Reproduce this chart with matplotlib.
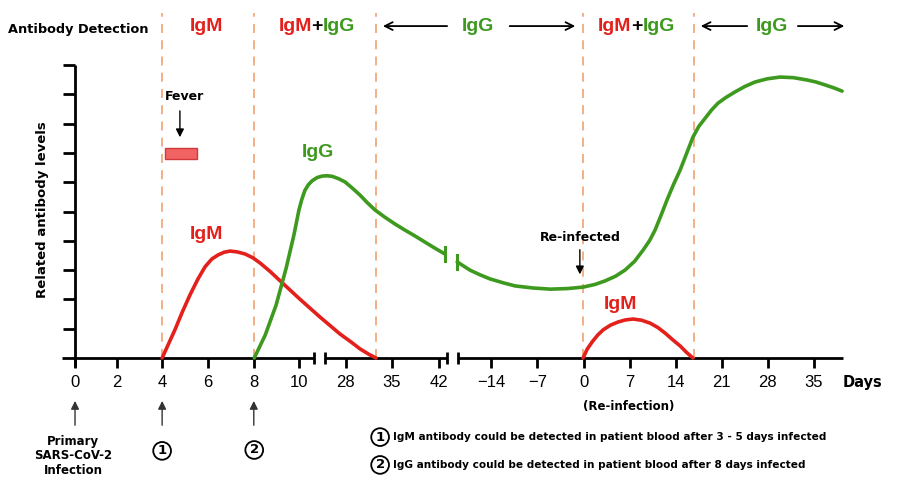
import numpy as np
import matplotlib
matplotlib.use('Agg')
import matplotlib.pyplot as plt
from matplotlib.patches import Rectangle

# x is in tick units along the (broken) timeline, y is the relative antibody level
days_primary = [0, 2, 4, 6, 8, 10]
days_late = [28, 35, 42]
days_reinf = [-14, -7, 0, 7, 14, 21, 28, 35]
levels = list(range(1, 11))

igm1_x = [1.91, 2.05, 2.19, 2.35, 2.52, 2.69, 2.85, 3.00, 3.14, 3.27, 3.40, 3.56, 3.73, 3.90, 4.06,
          4.28, 4.50, 4.93, 5.37, 5.81, 6.05, 6.25, 6.45, 6.60]
igm1_y = [0.0, 0.48, 0.96, 1.56, 2.15, 2.68, 3.11, 3.38, 3.52, 3.61, 3.65, 3.62, 3.55, 3.42, 3.24,
          2.95, 2.63, 2.01, 1.40, 0.82, 0.55, 0.31, 0.12, 0.0]

igg1_x = [3.93, 4.17, 4.41, 4.63, 4.80, 4.91, 4.97, 5.04, 5.12, 5.20, 5.31, 5.42, 5.53, 5.64, 5.78,
          5.92, 6.08, 6.25, 6.41, 6.58, 6.80, 7.02, 7.24, 7.46, 7.68, 7.89, 8.11]
igg1_y = [0.0, 0.78, 1.81, 3.07, 4.20, 5.05, 5.40, 5.72, 5.92, 6.05, 6.16, 6.21, 6.22, 6.20, 6.12,
          6.01, 5.80, 5.56, 5.30, 5.05, 4.80, 4.57, 4.36, 4.16, 3.95, 3.75, 3.55]

igg2_x = [8.38, 8.66, 8.88, 9.10, 9.38, 9.65, 10.04, 10.42, 10.80, 11.14, 11.40, 11.62, 11.85, 12.06,
          12.27, 12.46, 12.60, 12.72, 12.85, 12.98, 13.12, 13.27, 13.41, 13.55, 13.68, 13.82, 13.96,
          14.10, 14.28, 14.47, 14.69, 14.91, 15.18, 15.46, 15.75, 16.05, 16.25, 16.45, 16.64, 16.82]
igg2_y = [3.28, 3.00, 2.84, 2.70, 2.57, 2.46, 2.39, 2.35, 2.37, 2.42, 2.51, 2.63, 2.79, 3.00,
          3.30, 3.69, 4.01, 4.37, 4.87, 5.39, 5.91, 6.42, 6.98, 7.54, 7.91, 8.19, 8.47,
          8.70, 8.90, 9.08, 9.27, 9.42, 9.53, 9.59, 9.57, 9.49, 9.42, 9.32, 9.22, 9.11]

igm2_x = [11.14, 11.23, 11.34, 11.46, 11.58, 11.74, 11.91, 12.07, 12.24, 12.42, 12.61, 12.78, 12.94,
          13.10, 13.27, 13.41, 13.55]
igm2_y = [0.0, 0.30, 0.55, 0.78, 0.96, 1.12, 1.23, 1.30, 1.33, 1.29, 1.19, 1.04, 0.85,
          0.63, 0.41, 0.19, 0.0]

phase_bounds = [1.91, 3.92, 6.60, 11.14, 13.57]

RED = '#e3201b'
GREEN = '#3d9a1e'
DASH = '#f2a97e'
NUM = 'Liberation Sans'
BOLD = 'DejaVu Sans'

# tick layout
pos_primary = np.array([0, 0.92, 1.91, 2.92, 3.92, 4.91])
pos_late = np.array([5.94, 6.95, 7.98])
pos_reinf = 9.13 + 1.01 * np.arange(len(days_reinf))

fig = plt.figure(figsize=(9, 4.91), dpi=100)
ax = fig.add_axes([0, 0, 1, 1])
ax.set_xlim(-1.645, 18.09)
ax.set_ylim(-4.54, 12.22)
ax.axis('off')

# axes lines
k = dict(color='black', lw=2, solid_capstyle='butt')
ax.plot([0, 0], [-0.32, 10], **k)
ax.plot([-0.285, 5.24], [0, 0], **k)
ax.plot([5.48, 8.16], [0, 0], **k)
ax.plot([8.40, 16.84], [0, 0], **k)
for bx in [5.24, 5.48, 8.16, 8.40]:
    ax.plot([bx, bx], [-0.22, 0.22], **k)
for lv in levels:
    ax.plot([-0.26, 0], [lv, lv], **k)

all_pos = np.concatenate([pos_primary, pos_late, pos_reinf])
all_days = days_primary + days_late + days_reinf
for p, d in zip(all_pos, all_days):
    ax.plot([p, p], [0, -0.34], **k)
    lab = str(d).replace('-', '\u2212')
    ax.text(p, -0.85, lab, ha='center', va='center', fontsize=12, family=NUM)
ax.text(16.84, -0.85, 'Days', ha='left', va='center', fontsize=10.5, family=BOLD, weight='bold')
ax.text(pos_reinf[2] + 1.0, -1.67, '(Re-infection)', ha='center', va='center', fontsize=8.5,
        family=BOLD, weight='bold')

# phase boundaries
for b in phase_bounds:
    ax.plot([b, b], [0, 11.77], color=DASH, lw=1.3, dashes=(5, 4))

# curves
cs = dict(lw=2.6, solid_joinstyle='round', solid_capstyle='round')
ax.plot(igm1_x, igm1_y, color=RED, **cs)
ax.plot(igg1_x, igg1_y, color=GREEN, **cs)
ax.plot(igg2_x, igg2_y, color=GREEN, **cs)
ax.plot(igm2_x, igm2_y, color=RED, **cs)
ax.plot([igg1_x[-1]] * 2, [igg1_y[-1] - 0.25, igg1_y[-1] + 0.25], color=GREEN, lw=2.2)
ax.plot([igg2_x[0]] * 2, [igg2_y[0] - 0.25, igg2_y[0] + 0.25], color=GREEN, lw=2.2)

# curve labels
ig = dict(fontsize=14, family=NUM, weight='bold', ha='center', va='center')
ax.text(2.89, 4.23, 'IgM', color=RED, **ig)
ax.text(5.33, 7.03, 'IgG', color=GREEN, **ig)
ax.text(11.95, 1.81, 'IgM', color=RED, **ig)

# fever
ax.add_patch(Rectangle((1.97, 6.79), 0.71, 0.38, facecolor='#f26363', edgecolor='#d23a3a', lw=1))
ax.text(2.41, 8.94, 'Fever', ha='center', va='center', fontsize=9, family=BOLD, weight='bold')
ax.annotate('', xy=(2.30, 7.44), xytext=(2.30, 8.53),
            arrowprops=dict(arrowstyle='-|>', color='black', lw=1, mutation_scale=12))

# re-infected
ax.text(11.07, 4.13, 'Re-infected', ha='center', va='center', fontsize=9, family=BOLD, weight='bold')
ax.annotate('', xy=(11.07, 2.76), xytext=(11.07, 3.79),
            arrowprops=dict(arrowstyle='-|>', color='black', lw=1, mutation_scale=12))

# header row
hy = 11.33
ax.text(-1.47, 11.2, 'Antibody Detection', ha='left', va='center', fontsize=9.3, family=BOLD, weight='bold')
ax.text(2.89, hy, 'IgM', color=RED, **ig)
for plus_x in [5.31, 12.32]:
    ax.text(plus_x - 0.12, hy, 'IgM', color=RED, fontsize=14, family=NUM, weight='bold', ha='right', va='center')
    ax.text(plus_x, hy, '+', color='black', fontsize=14, family=NUM, weight='bold', ha='center', va='center')
    ax.text(plus_x + 0.12, hy, 'IgG', color=GREEN, fontsize=14, family=NUM, weight='bold', ha='left', va='center')
ax.text(8.84, hy, 'IgG', color=GREEN, **ig)
ax.text(15.29, hy, 'IgG', color=GREEN, **ig)
arr = dict(arrowstyle='->', color='black', lw=1.3, mutation_scale=14)
for x0, x1 in [(8.22, 6.69), (9.47, 11.03), (14.80, 13.66), (15.79, 16.93)]:
    ax.annotate('', xy=(x1, hy), xytext=(x0, hy), arrowprops=arr)

# y label
ax.text(-0.72, 5.05, 'Related antibody levels', rotation=90, ha='center', va='center',
        fontsize=9.5, family=BOLD, weight='bold')

# bottom markers
for bx in [0, 1.91, 3.92]:
    ax.annotate('', xy=(bx, -1.37), xytext=(bx, -2.39),
                arrowprops=dict(arrowstyle='-|>', color='#333333', lw=1, mutation_scale=12))
ax.text(-0.04, -3.34, 'Primary\nSARS-CoV-2\nInfection', ha='center', va='center', fontsize=8.5,
        family=BOLD, weight='bold', linespacing=1.15)
circ = dict(boxstyle='circle,pad=0.18', facecolor='white', edgecolor='black', lw=1.3)
ax.text(1.91, -3.17, '1', ha='center', va='center', fontsize=9.5, family=BOLD, weight='bold', bbox=circ)
ax.text(3.93, -3.14, '2', ha='center', va='center', fontsize=9.5, family=BOLD, weight='bold', bbox=circ)

ax.text(6.69, -2.70, '1', ha='center', va='center', fontsize=9.5, family=BOLD, weight='bold', bbox=circ)
ax.text(6.97, -2.70, 'IgM antibody could be detected in patient blood after 3 - 5 days infected',
        ha='left', va='center', fontsize=7.6, family=BOLD, weight='bold')
ax.text(6.69, -3.65, '2', ha='center', va='center', fontsize=9.5, family=BOLD, weight='bold', bbox=circ)
ax.text(6.97, -3.65, 'IgG antibody could be detected in patient blood after 8 days infected',
        ha='left', va='center', fontsize=7.6, family=BOLD, weight='bold')

fig.savefig('out.png', dpi=100)
